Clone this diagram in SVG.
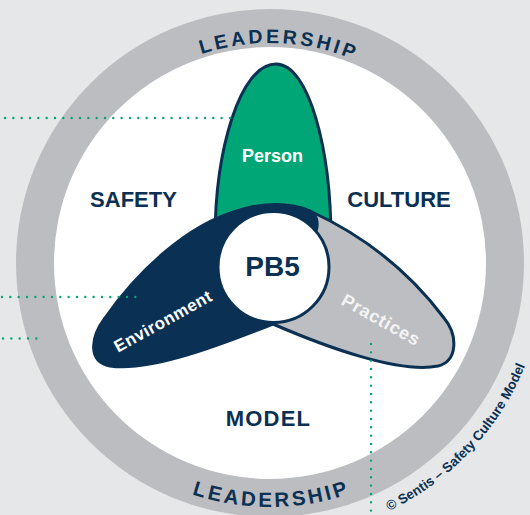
<svg xmlns="http://www.w3.org/2000/svg" width="530" height="515" viewBox="0 0 530 515">
<style>
.lbl{font-family:"Liberation Sans",Arial,sans-serif;font-weight:700}
.navytxt{fill:#0a3053}
.whitetxt{fill:#ffffff}
.dots{fill:none;stroke:#00a676;stroke-width:2.4;stroke-linecap:round;stroke-dasharray:0 8.33}
.petal{stroke:#0a3053;stroke-width:3;stroke-linejoin:round}
</style>
<defs>
<path id="arcTop" d="M 50 263 A 220 220 0 0 1 490 263"/>
<path id="arcBot" d="M 26 263 A 244 244 0 0 0 514 263"/>
<path id="arcCopy" d="M 364.1 521.4 A 275 275 0 0 0 535.6 334.2"/>
</defs>
<rect width="530" height="515" fill="#e6e7e8"/>
<g id="leadership-ring">
<circle cx="270" cy="263" r="254" fill="#bcbdc0"/>
<circle cx="270" cy="263" r="216" fill="#ffffff"/>
<text class="lbl navytxt" font-size="19.5" letter-spacing="3.2" text-anchor="middle"><textPath href="#arcTop" startOffset="51.3%">LEADERSHIP</textPath></text>
<text class="lbl navytxt" font-size="20.5" letter-spacing="3" text-anchor="middle"><textPath href="#arcBot" startOffset="50.2%">LEADERSHIP</textPath></text>
</g>
<g id="section-labels">
<text class="lbl navytxt" font-size="22" x="133.5" y="207" text-anchor="middle">SAFETY</text>
<text class="lbl navytxt" font-size="22" x="399" y="207" text-anchor="middle">CULTURE</text>
<text class="lbl navytxt" font-size="22" x="268.5" y="426" text-anchor="middle" letter-spacing="1.2">MODEL</text>
</g>
<g id="person">
<path class="petal" fill="#00a676" d="M 215 240 C 215 150 240 64 276 64 C 309 64 331 150 331 240 Z"/>
<text class="lbl whitetxt" font-size="18" x="272.5" y="162" text-anchor="middle">Person</text>
</g>
<g id="practices">
<path class="petal" fill="#bcbec1" d="M 273 324 C 326 347 400 374 438 366 C 458 361 458 335 444 318 C 420 286 378 242 310 211 L 290 215 L 273 267 Z"/>
<text class="lbl" fill="#f4f4f4" font-size="18" letter-spacing="0.8" text-anchor="middle" transform="translate(381 320) rotate(29)" y="6">Practices</text>
</g>
<g id="environment">
<path class="petal" fill="#0a3053" d="M 273 324 C 220 345 150 372 110 366 C 88 362 90 338 105 318 C 135 275 185 225 240 210 C 262 203 290 202 310 211 C 316 214 319 222 316 231 L 290 262 Z"/>
<text class="lbl whitetxt" font-size="17" letter-spacing="0.5" text-anchor="middle" transform="translate(163 321) rotate(-29)" y="6">Environment</text>
</g>
<g id="pb5">
<circle cx="273.5" cy="267" r="55.5" fill="#ffffff" stroke="#0a3053" stroke-width="3"/>
<text class="lbl navytxt" font-size="28" x="272.5" y="276" text-anchor="middle">PB5</text>
</g>
<g id="copyright">
<text class="lbl navytxt" font-size="13.5"><textPath href="#arcCopy" startOffset="27">© Sentis – Safety Culture Model</textPath></text>
</g>
<g id="connectors">
<path class="dots" d="M 5 118 H 232"/>
<path class="dots" d="M 2 297 H 140"/>
<path class="dots" d="M 3 338.5 H 39"/>
<path class="dots" d="M 371 344 V 515"/>
</g>
</svg>
